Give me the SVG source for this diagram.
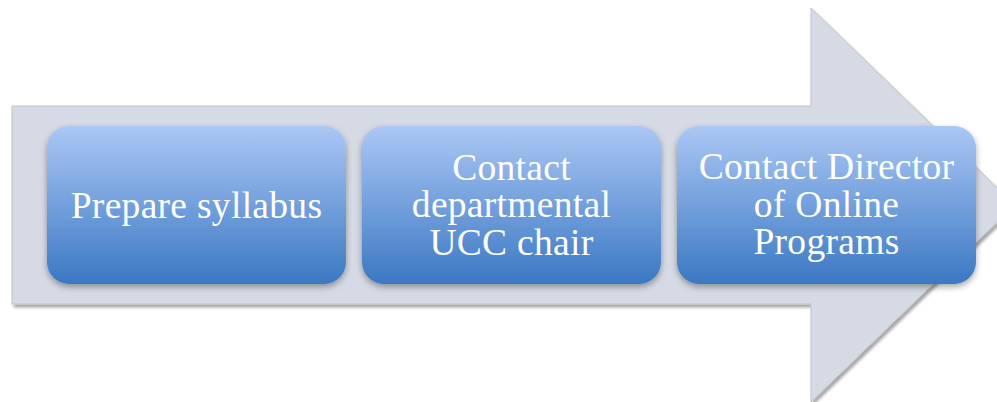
<svg xmlns="http://www.w3.org/2000/svg" width="997" height="402" viewBox="0 0 997 402">
<defs>
<linearGradient id="boxg" x1="0" y1="0" x2="0" y2="1">
<stop offset="0" stop-color="#abc7f5"/>
<stop offset="1" stop-color="#3b78c3"/>
</linearGradient>
<filter id="arrowShadow" x="-5%" y="-5%" width="115%" height="115%">
<feDropShadow dx="2" dy="3" stdDeviation="1.5" flood-color="#000" flood-opacity="0.35"/>
</filter>
<filter id="boxShadow" x="-10%" y="-10%" width="120%" height="130%">
<feDropShadow dx="0" dy="3" stdDeviation="3" flood-color="#000" flood-opacity="0.35"/>
</filter>
<style>
.box{fill:url(#boxg);filter:url(#boxShadow);}
.lbl{font-family:"Liberation Serif","Times New Roman",serif;font-size:37.5px;letter-spacing:0.3px;fill:#ffffff;text-anchor:middle;}
</style>
</defs>
<rect width="997" height="402" fill="#ffffff"/>
<g id="arrow">
<path d="M12,106 H811 V8 L1015,205 L811,402 V304 H12 Z" fill="#d5dae5" stroke="#bfc3cc" stroke-width="1" filter="url(#arrowShadow)"/>
</g>
<g id="connectors"></g>
<g id="node1">
<rect class="box" x="47" y="126" width="299" height="158" rx="22"/>
<text class="lbl" x="196.5" y="218">Prepare syllabus</text>
</g>
<g id="node2">
<rect class="box" x="362" y="126" width="299" height="158" rx="22"/>
<text class="lbl" x="511.5" y="180">Contact</text>
<text class="lbl" x="511.5" y="217">departmental</text>
<text class="lbl" x="511.5" y="255">UCC chair</text>
</g>
<g id="node3">
<rect class="box" x="677" y="126" width="299" height="158" rx="22"/>
<text class="lbl" x="826.5" y="179">Contact Director</text>
<text class="lbl" x="826.5" y="217">of Online</text>
<text class="lbl" x="826.5" y="254">Programs</text>
</g>
</svg>
